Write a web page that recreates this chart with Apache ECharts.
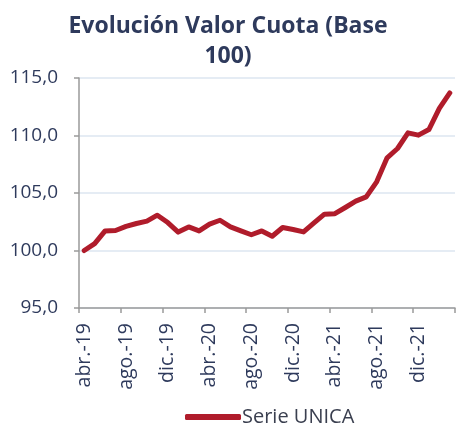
<!DOCTYPE html>
<html>
<head>
<meta charset="utf-8">
<script src="https://cdn.jsdelivr.net/npm/echarts@6/dist/echarts.min.js"></script>
<style>
html,body{margin:0;padding:0;background:#fff;}
#c{width:456px;height:429px;}
</style>
</head>
<body>
<div id="c"></div>
<script>
const titleText = "Evolución Valor Cuota (Base\n100)";
const seriesName = "Serie UNICA";
const categories = [
  "abr.-19","may.-19","jun.-19","jul.-19","ago.-19","sept.-19","oct.-19","nov.-19",
  "dic.-19","ene.-20","feb.-20","mar.-20","abr.-20","may.-20","jun.-20","jul.-20",
  "ago.-20","sept.-20","oct.-20","nov.-20","dic.-20","ene.-21","feb.-21","mar.-21",
  "abr.-21","may.-21","jun.-21","jul.-21","ago.-21","sept.-21","oct.-21","nov.-21",
  "dic.-21","ene.-22","feb.-22","mar.-22"
];
const values = [
  100.0, 100.6, 101.7, 101.74, 102.1, 102.35, 102.55, 103.07,
  102.43, 101.6, 102.05, 101.7, 102.3, 102.63, 102.05, 101.7,
  101.37, 101.7, 101.24, 102.0, 101.83, 101.62, 102.4, 103.16,
  103.2, 103.74, 104.29, 104.66, 105.97, 108.06, 108.87, 110.23,
  110.03, 110.52, 112.35, 113.7
];
const yMin = 95, yMax = 115, yStep = 5;

const chart = echarts.init(document.getElementById('c'), null, {renderer:'canvas'});
const font = "'Open Sans', 'Noto Sans', sans-serif";
chart.setOption({
  animation:false,
  title:{
    text:titleText, left:'center', top:6,
    textStyle:{fontFamily:font, fontWeight:'bold', fontSize:23, color:'#2e3a5c', lineHeight:30}
  },
  legend:{
    bottom:-3, left:180,
    itemWidth:56, itemHeight:6, itemGap:4,
    icon:'roundRect',
    textStyle:{fontFamily:font, fontSize:20, color:'#3a3f4f', padding:[0,0,0,-4]},
    data:[seriesName]
  },
  grid:{left:79, right:1, top:78, bottom:121, containLabel:false},
  xAxis:{
    type:'category', data:categories, boundaryGap:true,
    axisLine:{lineStyle:{color:'#9a9a9a', width:1.5}},
    axisTick:{show:true, interval:3, length:5, lineStyle:{color:'#9a9a9a', width:1.5}},
    axisLabel:{interval:3, rotate:90, margin:15, fontFamily:font, fontSize:19.5, color:'#2e3a5c'},
    splitLine:{show:false}
  },
  yAxis:{
    type:'value', min:yMin, max:yMax, interval:yStep,
    axisLine:{show:true, lineStyle:{color:'#9a9a9a', width:1.5}},
    axisTick:{show:true, length:5, lineStyle:{color:'#9a9a9a', width:1.5}},
    axisLabel:{margin:21, fontFamily:font, fontSize:19, color:'#2e3a5c',
      formatter:v=>v.toFixed(1).replace('.',',')},
    splitLine:{show:true, lineStyle:{color:'#dde6f1', width:1.5}}
  },
  series:[{
    name:seriesName, type:'line', data:values, symbol:'none',
    lineStyle:{color:'#b01c2b', width:5, cap:'round', join:'round'},
    itemStyle:{color:'#b01c2b'}
  }]
});
</script>
</body>
</html>
